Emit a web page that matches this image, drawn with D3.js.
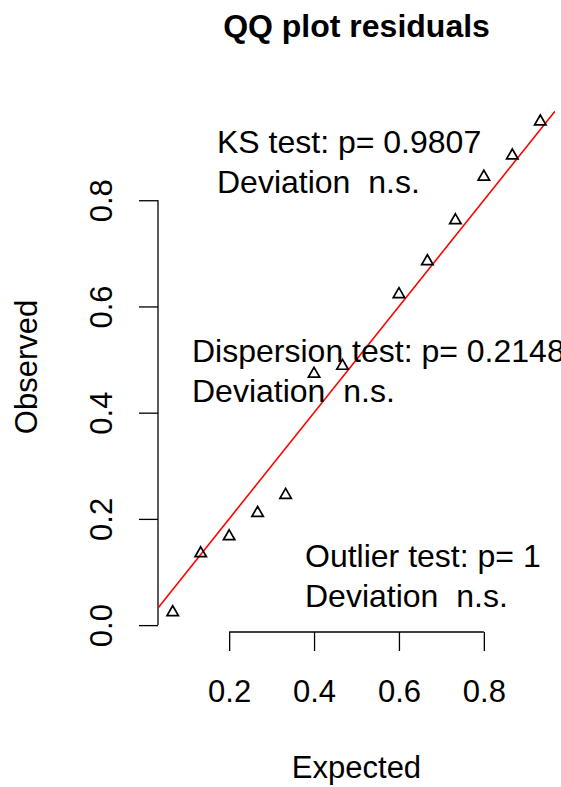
<!DOCTYPE html>
<html>
<head>
<meta charset="utf-8">
<script src="https://cdn.jsdelivr.net/npm/d3@7"></script>
<style>
  html, body { margin: 0; padding: 0; background: #fff; }
  svg { display: block; }
  text { font-family: "Liberation Sans", Arial, Helvetica, sans-serif; fill: #000; }
</style>
</head>
<body>
<svg id="chart" width="561" height="787"></svg>
<script>
// ---- data ----
const expected = [0.067, 0.133, 0.200, 0.267, 0.333, 0.400, 0.467, 0.600, 0.667, 0.733, 0.800, 0.867, 0.933];
const observed = [0.024, 0.135, 0.167, 0.211, 0.245, 0.473, 0.488, 0.623, 0.685, 0.762, 0.844, 0.884, 0.948];
const xTicks = [0.2, 0.4, 0.6, 0.8];
const yTicks = [0.0, 0.2, 0.4, 0.6, 0.8];
const title = "QQ plot residuals";
const xLabel = "Expected";
const yLabel = "Observed";
const ksText = ["KS test: p= 0.9807", "Deviation  n.s."];
const dispText = ["Dispersion test: p= 0.2148", "Deviation  n.s."];
const outText = ["Outlier test: p= 1", "Deviation  n.s."];

// ---- layout ----
const plot = { left: 158, right: 555, top: 102, bottom: 632 };
const fs = 31;
const fsNote = 32;

function ext(arr) {
  const mn = d3.min(arr), mx = d3.max(arr), r = mx - mn;
  return [mn - 0.04 * r, mx + 0.04 * r];
}
const x = d3.scaleLinear().domain(ext(expected)).range([plot.left, plot.right]);
const y = d3.scaleLinear().domain(ext(observed)).range([plot.bottom, plot.top]);

const svg = d3.select("#chart");

svg.append("defs").append("clipPath").attr("id", "clip")
  .append("rect")
  .attr("x", plot.left).attr("y", plot.top)
  .attr("width", plot.right - plot.left).attr("height", plot.bottom - plot.top);

// title
svg.append("text")
  .attr("x", (plot.left + plot.right) / 2).attr("y", 37)
  .attr("text-anchor", "middle")
  .style("font-weight", "bold").style("font-size", "32px")
  .text(title);

// x axis
const xAxis = d3.axisBottom(x).tickValues(xTicks).tickSize(19).tickPadding(30)
  .tickFormat(d3.format(".1f"));
const gx = svg.append("g").attr("transform", `translate(0,${plot.bottom})`).call(xAxis);
gx.select(".domain").attr("d", `M${x(xTicks[0])},0H${x(xTicks[xTicks.length - 1])}`);
gx.selectAll("path, line").attr("stroke", "#000").attr("stroke-width", 1.3);
gx.selectAll("text").style("font-size", fs + "px").attr("dy", "0").attr("y", 70);

// y axis
const yAxis = d3.axisLeft(y).tickValues(yTicks).tickSize(19).tickFormat(d3.format(".1f"));
const gy = svg.append("g").attr("transform", `translate(${plot.left},0)`).call(yAxis);
gy.select(".domain").attr("d", `M0,${y(yTicks[0])}V${y(yTicks[yTicks.length - 1])}`);
gy.selectAll("path, line").attr("stroke", "#000").attr("stroke-width", 1.3);
gy.selectAll(".tick text")
  .style("font-size", fs + "px")
  .attr("x", null).attr("dy", null)
  .attr("text-anchor", "middle")
  .attr("transform", "translate(-46,0) rotate(-90)");

// axis labels
svg.append("text")
  .attr("x", (plot.left + plot.right) / 2).attr("y", 778)
  .attr("text-anchor", "middle").style("font-size", fs + "px")
  .text(xLabel);
svg.append("text")
  .attr("transform", `translate(37,${(plot.top + plot.bottom) / 2}) rotate(-90)`)
  .attr("text-anchor", "middle").style("font-size", fs + "px")
  .text(yLabel);

// reference line y = x
const xd = x.domain();
svg.append("line")
  .attr("clip-path", "url(#clip)")
  .attr("x1", x(xd[0])).attr("y1", y(xd[0]))
  .attr("x2", x(xd[1])).attr("y2", y(xd[1]))
  .attr("stroke", "#ff0000").attr("stroke-width", 1.6);

// points (open triangles, centroid at data point)
const s = 6.6;
const tri = `M0,${-s * 1.0}L${s * 0.866},${s * 0.5}L${-s * 0.866},${s * 0.5}Z`;
svg.append("g").selectAll("path")
  .data(expected.map((e, i) => [e, observed[i]]))
  .join("path")
  .attr("transform", d => `translate(${x(d[0])},${y(d[1])})`)
  .attr("d", tri)
  .attr("fill", "none").attr("stroke", "#000").attr("stroke-width", 1.7);

// test annotations
function block(lines, px, py) {
  const t = svg.append("text").style("font-size", fsNote + "px").attr("xml:space", "preserve");
  lines.forEach((l, i) => {
    t.append("tspan").attr("x", px).attr("y", py + i * 40).attr("xml:space", "preserve").text(l);
  });
}
block(ksText, 217, 153);
block(dispText, 192, 362);
block(outText, 305, 567);
</script>
</body>
</html>
